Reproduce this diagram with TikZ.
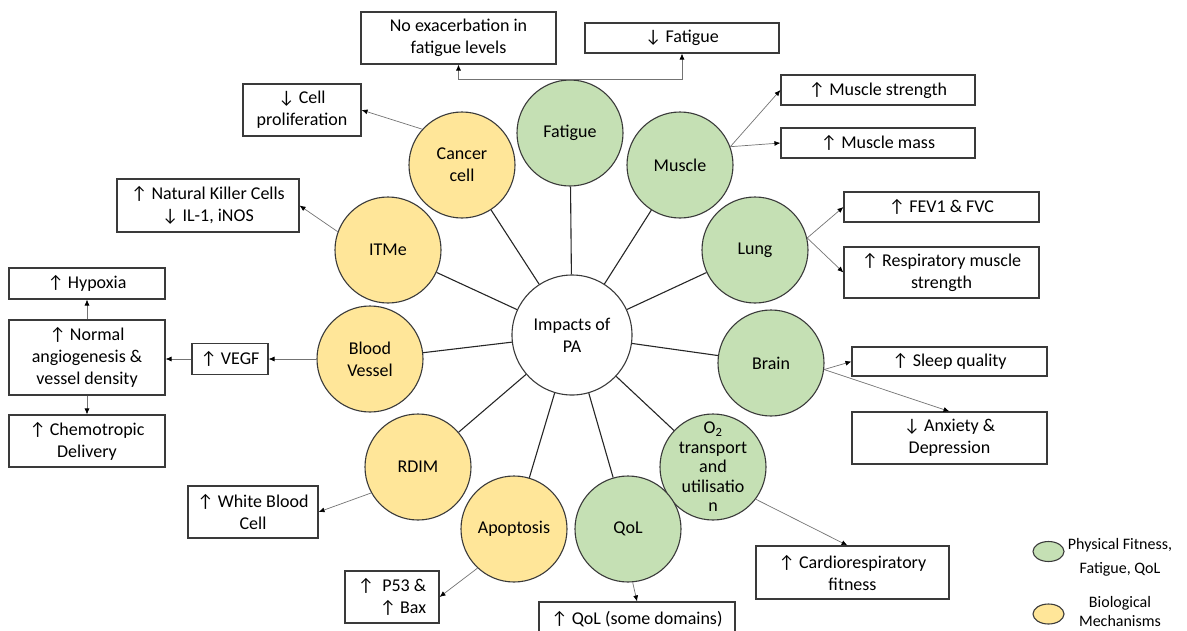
\documentclass[tikz,border=0pt]{standalone}
\usepackage{fontspec}
\setmainfont{Carlito}
\usetikzlibrary{arrows.meta,calc}
\definecolor{fitgreen}{HTML}{C5E0B4}
\definecolor{bioyellow}{HTML}{FFE699}
\definecolor{edgegray}{HTML}{3A3A3A}
\begin{document}
\begin{tikzpicture}[x=1pt,y=-1pt,
  every node/.style={font=\fontsize{18}{22}\selectfont},
  topic/.style={circle,draw=edgegray,line width=1.1pt,minimum size=106pt,inner sep=0pt,align=center},
  fitnode/.style={topic,fill=fitgreen},
  bionode/.style={topic,fill=bioyellow},
  outcome/.style={draw=edgegray,line width=1.1pt,fill=white,inner xsep=3pt,inner ysep=0pt,align=center},
  spoke/.style={draw=black!85,line width=1.1pt},
  effect/.style={draw=black!55,line width=0.7pt,-{Latex[length=6pt,width=5pt,color=black]}}]

\useasboundingbox (0,0) rectangle (1187,630);
\clip (0,0) rectangle (1187,630);

% central node
\node[topic,minimum size=120pt,fill=white] (pa) at (572,335) {Impacts of\\PA};

% outcome domains
\node[fitnode] (fatigue) at (570,133) {Fatigue};
\node[fitnode] (muscle)  at (680,165) {Muscle};
\node[fitnode] (lung)    at (755,250) {Lung};
\node[fitnode] (brain)   at (771,363) {Brain};
\node[fitnode,label={[align=center,font=\fontsize{18}{19.5}\selectfont]center:O\textsubscript{2}\\transport\\and\\utilisatio\\n}] (o2) at (713,467) {};
\node[fitnode] (qol)     at (628,529) {QoL};
\node[bionode] (apop)    at (514,529) {Apoptosis};
\node[bionode] (rdim)    at (418,467) {RDIM};
\node[bionode] (blood)   at (370,359) {Blood\\Vessel};
\node[bionode] (itme)    at (388,250) {ITMe};
\node[bionode] (cancer)  at (462,165) {Cancer\\cell};

\foreach \n in {fatigue,muscle,lung,brain,o2,qol,apop,rdim,blood,itme,cancer}
  \draw[spoke] (pa) -- (\n);

% effect boxes
\node[outcome,minimum width=195pt,minimum height=52pt] (noex)    at (458.5,38)  {No exacerbation in\\fatigue levels};
\node[outcome,minimum width=194pt,minimum height=30pt] (fatdown) at (682,38)    {↓ Fatigue};
\node[outcome,minimum width=194pt,minimum height=30pt] (mstr)    at (878,90)    {↑ Muscle strength};
\node[outcome,minimum width=194pt,minimum height=30pt] (mmass)   at (878,143)   {↑ Muscle mass};
\node[outcome,minimum width=195pt,minimum height=30pt] (fev)     at (941.5,207) {↑ FEV1 \& FVC};
\node[outcome,minimum width=195pt,minimum height=51pt] (resp)    at (941.5,272.5) {↑ Respiratory muscle\\strength};
\node[outcome,minimum width=195pt,minimum height=29pt] (sleep)   at (949.5,361.5) {↑ Sleep quality};
\node[outcome,minimum width=195pt,minimum height=52pt] (anx)     at (949.5,438) {↓ Anxiety \&\\Depression};
\node[outcome,minimum width=193pt,minimum height=53pt] (cardio)  at (852.5,572.5) {↑ Cardiorespiratory\\fitness};
\node[outcome,minimum width=196pt,minimum height=34pt] (qolbox)  at (637,619)   {↑ QoL (some domains)};
\node[outcome,minimum width=94pt,minimum height=52pt,align=right] (p53) at (392,597) {↑\ \ P53 \&\\↑ Bax};
\node[outcome,minimum width=130pt,minimum height=52pt] (wbc)     at (253,512)   {↑ White Blood\\Cell};
\node[outcome,minimum width=76pt,minimum height=31pt]  (vegf)    at (230,359)   {↑ VEGF};
\node[outcome,minimum width=156pt,minimum height=75pt] (normal)  at (87,357.5)  {↑ Normal\\angiogenesis \&\\vessel density};
\node[outcome,minimum width=156pt,minimum height=31pt] (hyp)     at (87,283.5)  {↑ Hypoxia};
\node[outcome,minimum width=156pt,minimum height=52pt] (chemo)   at (87,441)    {↑ Chemotropic\\Delivery};
\node[outcome,minimum width=182pt,minimum height=53pt] (nk)      at (208,205.5) {↑ Natural Killer Cells\\↓ IL-1, iNOS};
\node[outcome,minimum width=118pt,minimum height=52pt] (cellp)   at (302,110)   {↓ Cell\\proliferation};

% effect arrows
\draw[effect] (fatigue.north) -| (noex.south);
\draw[effect] (fatigue.north) -| (fatdown.south);
\draw[effect] (muscle.20) -- (mstr.west);
\draw[effect] (muscle.20) -- (mmass.west);
\draw[effect] (lung.13) -- (fev.west);
\draw[effect] (lung.13) -- (resp.west);
\draw[effect] (brain.-7) -- (sleep.west);
\draw[effect] (brain.-7) -- (anx.north);
\draw[effect] (o2.-37) -- ($(cardio.north)+(-5,0)$);
\draw[effect] (qol.-85) -- (qolbox.north);
\draw[effect] (apop.-133) -- (p53.east);
\draw[effect] (rdim.-151) -- (wbc.east);
\draw[effect] (blood.west) -- (vegf.east);
\draw[effect] (vegf.west) -- (normal.east |- vegf.west);
\draw[effect] (normal.north) -- (hyp.south);
\draw[effect] (normal.south) -- (chemo.north);
\draw[effect] (itme.160) -- (nk.east);
\draw[effect] (cancer.138) -- (cellp.east);

% legend
\draw[edgegray,line width=1.1pt,fill=fitgreen] (1048.5,551.5) ellipse [x radius=15.5, y radius=10];
\draw[edgegray,line width=1.1pt,fill=bioyellow] (1048.5,614) ellipse [x radius=15.5, y radius=10];
\node[align=center,font=\fontsize{16}{24}\selectfont] (legfit) at (1120,557) {Physical Fitness,\\Fatigue, QoL};
\node[align=center,font=\fontsize{16}{19}\selectfont,inner ysep=1pt] (legbio) at (1120,611) {Biological\\Mechanisms};
\end{tikzpicture}
\end{document}
